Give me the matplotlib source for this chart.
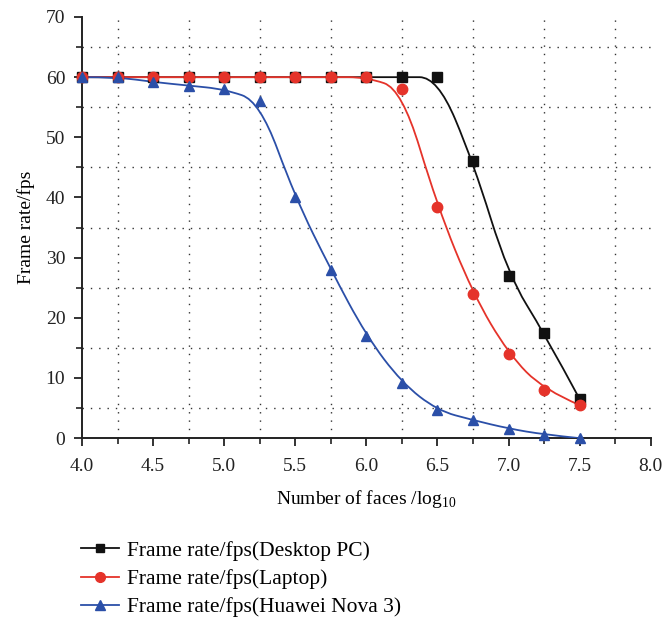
import matplotlib.pyplot as plt
from matplotlib.path import Path
from matplotlib.patches import PathPatch
from matplotlib.lines import Line2D
from matplotlib.ticker import MultipleLocator

faces = [4.0, 4.25, 4.5, 4.75, 5.0, 5.25, 5.5, 5.75, 6.0, 6.25, 6.5, 6.75, 7.0, 7.25, 7.5]
desktop = [60, 60, 60, 60, 60, 60, 60, 60, 60, 60, 60, 46, 27, 17.5, 6.5]
laptop = [60, 60, 60, 60, 60, 60, 60, 60, 60, 58, 38.5, 24, 14, 8, 5.5]
huawei = [60, 60, 59.2, 58.6, 58, 56, 40, 28, 17, 9.2, 4.6, 3, 1.6, 0.6, 0]

labels = ['Frame rate/fps(Desktop PC)', 'Frame rate/fps(Laptop)', 'Frame rate/fps(Huawei Nova 3)']
colors = ['#111111', '#e5332a', '#2b4fa8']
markers = ['s', 'o', '^']

plt.rcParams['font.family'] = ['Liberation Serif', 'DejaVu Serif']
plt.rcParams['mathtext.fontset'] = 'custom'
plt.rcParams['mathtext.rm'] = 'Liberation Serif'


def bspline_path(xs, ys):
	# quadratic b-spline style smoothing, data points act as control points
	verts = [(xs[0], ys[0])]
	codes = [Path.MOVETO]
	for i in range(1, len(xs) - 1):
		if i < len(xs) - 2:
			end = ((xs[i] + xs[i + 1]) / 2, (ys[i] + ys[i + 1]) / 2)
		else:
			end = (xs[i + 1], ys[i + 1])
		verts += [(xs[i], ys[i]), end]
		codes += [Path.CURVE3, Path.CURVE3]
	return Path(verts, codes)


fig = plt.figure(figsize=(6.64, 6.18), dpi=100)
ax = fig.add_axes([0.1235, 0.291, 0.8565, 0.6815])

handles = []
for ys, lab, c, m in zip([desktop, laptop, huawei], labels, colors, markers):
	ax.add_patch(PathPatch(bspline_path(faces, ys), facecolor='none', edgecolor=c, lw=1.3, zorder=3))
	ax.plot(faces, ys, linestyle='none', marker=m, color=c, markersize=7.5 if m != 's' else 6.5,
	        clip_on=False, zorder=4)
	handles.append(Line2D([], [], color=c, lw=1.3, marker=m, markersize=7 if m != 's' else 6))

ax.set_xlim(4.0, 8.0)
ax.set_ylim(0, 70)
ax.xaxis.set_major_locator(MultipleLocator(0.5))
ax.xaxis.set_minor_locator(MultipleLocator(0.25))
ax.yaxis.set_major_locator(MultipleLocator(10))
ax.yaxis.set_minor_locator(MultipleLocator(5))
ax.xaxis.set_major_formatter(plt.FormatStrFormatter('%.1f'))
ax.grid(which='minor', color='#333333', linestyle=(0, (1, 5)), linewidth=1)
ax.spines['top'].set_visible(False)
ax.spines['right'].set_visible(False)
for s in ['left', 'bottom']:
	ax.spines[s].set_linewidth(1.4)
	ax.spines[s].set_color('#222222')
ax.tick_params(which='major', length=6, width=1.3, labelsize=14, colors='#222222')
ax.tick_params(axis='x', which='major', pad=8)
ax.tick_params(axis='y', which='major', pad=6)
ax.tick_params(which='minor', length=4, width=1.2, colors='#222222')
ax.set_xlabel('Number of faces /log$_{10}$', fontsize=14, labelpad=10)
ax.set_ylabel('Frame rate/fps', fontsize=14, labelpad=8)

fig.legend(handles=handles, labels=labels, loc='upper left', bbox_to_anchor=(0.122, 0.125),
           frameon=False, fontsize=15.5, handlelength=1.75, handletextpad=0.4, labelspacing=0.38,
           borderaxespad=0, borderpad=0)

plt.savefig('out.png')
plt.close()
